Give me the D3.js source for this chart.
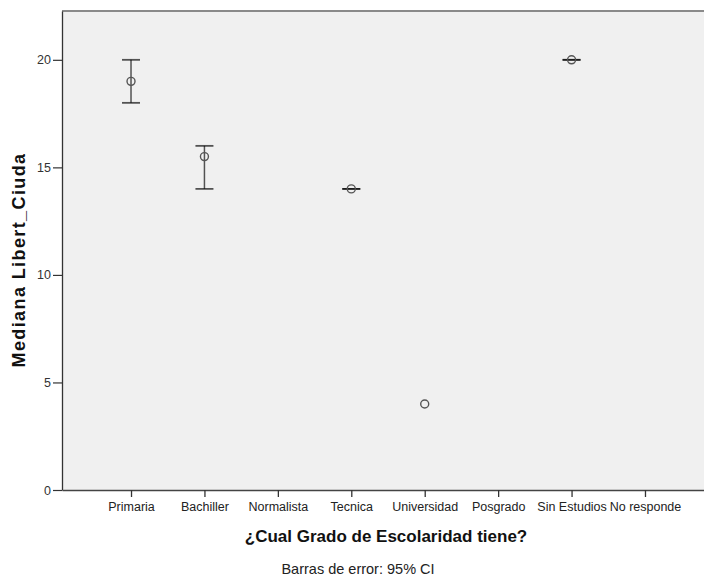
<!DOCTYPE html>
<html>
<head>
<meta charset="utf-8">
<script src="https://cdn.jsdelivr.net/npm/d3@7"></script>
<style>
  html, body { margin: 0; padding: 0; background: #fff; }
  svg { display: block; }
  text { font-family: "Liberation Sans", Arial, sans-serif; }
</style>
</head>
<body>
<svg id="chart" width="704" height="580"></svg>
<script>
const categories = ["Primaria", "Bachiller", "Normalista", "Tecnica", "Universidad", "Posgrado", "Sin Estudios", "No responde"];
const medians = [19, 15.5, null, 14, 4, null, 20, null];
const ciLow = [18, 14, null, 14, null, null, 20, null];
const ciHigh = [20, 16, null, 14, null, null, 20, null];
const yTicks = [0, 5, 10, 15, 20];
const xTitle = "¿Cual Grado de Escolaridad tiene?";
const yTitle = "Mediana Libert_Ciuda";
const footnote = "Barras de error: 95% CI";

const svg = d3.select("#chart");
const pLeft = 62, pRight = 714, pTop = 11, pBottom = 490;

const x = d3.scalePoint().domain(categories).range([pLeft, pRight]).padding(0.94);
const y = d3.scaleLinear().domain([0, 22.27]).range([pBottom, pTop]);

// plot background
svg.append("rect").attr("x", pLeft).attr("y", pTop).attr("width", pRight - pLeft).attr("height", pBottom - pTop)
  .attr("fill", "#f0f0f0");
// top border
svg.append("line").attr("x1", pLeft).attr("x2", pRight).attr("y1", pTop).attr("y2", pTop)
  .attr("stroke", "#8a8a8a").attr("stroke-width", 2);

// y axis
const yAxis = svg.append("g").attr("transform", `translate(${pLeft},0)`)
  .call(d3.axisLeft(y).tickValues(yTicks).tickSize(9).tickPadding(2).tickSizeOuter(0));
yAxis.select(".domain").attr("stroke", "#333").attr("stroke-width", 1.3);
yAxis.selectAll(".tick line").attr("stroke", "#333").attr("stroke-width", 1.2);
yAxis.selectAll(".tick text").attr("font-size", 12.5).attr("fill", "#333")
  .attr("font-family", "Liberation Sans, Arial, sans-serif");

// x axis
const xAxis = svg.append("g").attr("transform", `translate(0,${pBottom})`)
  .call(d3.axisBottom(x).tickSize(7).tickPadding(5).tickSizeOuter(0));
xAxis.select(".domain").attr("stroke", "#444").attr("stroke-width", 1.5);
xAxis.selectAll(".tick line").attr("stroke", "#333").attr("stroke-width", 1.3);
xAxis.selectAll(".tick text").attr("font-size", 12.5).attr("fill", "#222")
  .attr("font-family", "Liberation Sans, Arial, sans-serif");

const data = categories.map((c, i) => ({ c, m: medians[i], lo: ciLow[i], hi: ciHigh[i] }));
const cap = 9;
const ebColor = "rgba(0,0,0,0.66)";

const g = svg.append("g");
data.filter(d => d.lo !== null).forEach(d => {
  const cx = x(d.c);
  g.append("line").attr("x1", cx).attr("x2", cx).attr("y1", y(d.lo)).attr("y2", y(d.hi))
    .attr("stroke", ebColor).attr("stroke-width", 1.5);
  g.append("line").attr("x1", cx - cap).attr("x2", cx + cap).attr("y1", y(d.lo)).attr("y2", y(d.lo))
    .attr("stroke", ebColor).attr("stroke-width", 1.8);
  g.append("line").attr("x1", cx - cap).attr("x2", cx + cap).attr("y1", y(d.hi)).attr("y2", y(d.hi))
    .attr("stroke", ebColor).attr("stroke-width", 1.8);
});
g.selectAll("circle").data(data.filter(d => d.m !== null)).join("circle")
  .attr("cx", d => x(d.c)).attr("cy", d => y(d.m)).attr("r", 4)
  .attr("fill", "none").attr("stroke", "#555").attr("stroke-width", 1.4);

// titles
svg.append("text").attr("x", 386).attr("y", 542).attr("text-anchor", "middle")
  .attr("font-size", 17).attr("font-weight", "bold").attr("fill", "#111").text(xTitle);
svg.append("text").attr("transform", "translate(25,260) rotate(-90)").attr("text-anchor", "middle")
  .attr("font-size", 18).attr("font-weight", "bold").attr("fill", "#111")
  .attr("letter-spacing", 1.4).text(yTitle);
svg.append("text").attr("x", 358).attr("y", 574).attr("text-anchor", "middle")
  .attr("font-size", 14.5).attr("fill", "#222").text(footnote);
</script>
</body>
</html>
